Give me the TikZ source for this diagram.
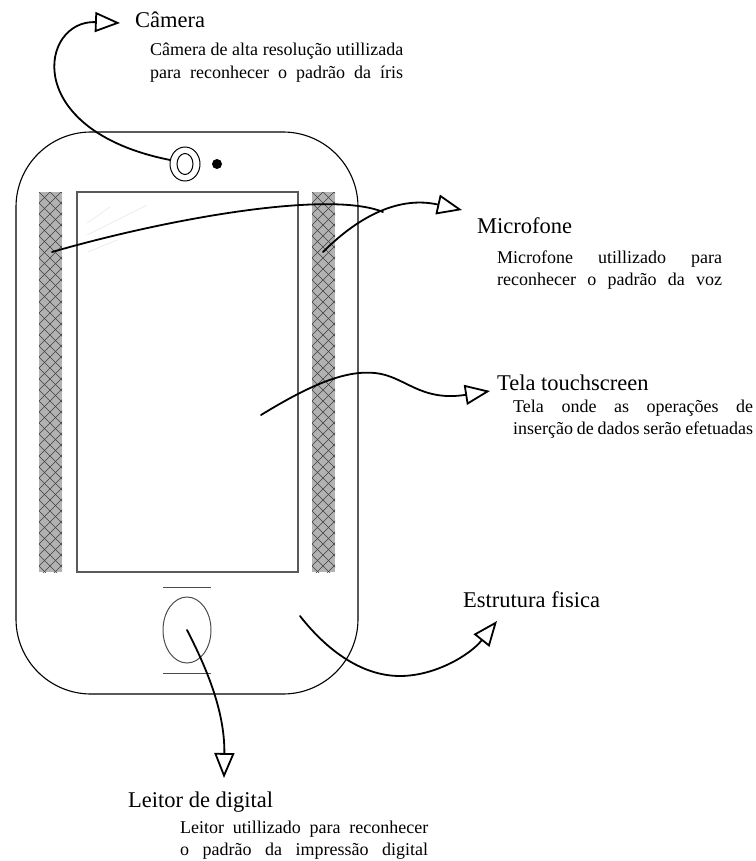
\documentclass[tikz,border=0pt]{standalone}
\usepackage{fontspec}
\setmainfont{Liberation Serif}
\usetikzlibrary{arrows.meta,shapes.geometric}

\tikzset{>={Triangle[open,length=25pt,width=20pt]}}
\tikzset{
  callout/.style={->, line width=1.8pt, line cap=round},
  title/.style={anchor=base west, inner sep=0pt, font=\fontsize{22.5}{27}\selectfont},
  note/.style={anchor=base west, inner sep=0pt, font=\fontsize{18}{22.5}\selectfont},
  lens/.style={ellipse, draw, line width=1pt, inner sep=0pt},
  grille/.style={fill=black!30},
  mesh/.style={draw=black!75, line width=0.55pt}
}
% one line of a note, stretched to the given width
\newcommand{\fillline}[2]{\makebox[#1][s]{#2}}

\begin{document}
\begin{tikzpicture}[x=1pt,y=-1pt]
\useasboundingbox (0,0) rectangle (755,861);

% body of the device
\draw[line width=1.1pt, rounded corners=75pt] (16,132) rectangle (358,694);

% camera and flash
\node[lens, minimum width=30pt, minimum height=34pt] (lensOut) at (185,164) {};
\node[lens, minimum width=16pt, minimum height=21pt] (lensIn) at (185,164) {};
\node[circle, fill, inner sep=0pt, minimum size=10pt] (flash) at (217,164) {};

% screen with a bit of glare
\node[draw=black!65, line width=1.4pt, minimum width=221pt, minimum height=380pt, inner sep=0pt] (screen) at (187.5,382) {};
\draw[black!10, line width=0.5pt] (87,223) -- (110,207) (87,235) -- (147,205) (88,252) -- (117,240);

% microphone grilles
\foreach \bx in {39,312} {
  \begin{scope}
    \clip (\bx,192) rectangle ++(23,380);
    \fill[grille] (\bx,192) rectangle ++(23,380);
    \foreach \k in {-38,...,40} {
      \draw[mesh] (\bx+11*\k,192) -- ++(400,400);
      \draw[mesh] (\bx+11*\k,192) -- ++(-400,400);
    }
  \end{scope}
}

% fingerprint reader
\draw[black!70, line width=1pt] (163,587) -- (211,587) (163,673) -- (211,673);
\node[ellipse, draw=black!70, line width=1pt, minimum width=48pt, minimum height=66pt, inner sep=0pt] (reader) at (187,630) {};

% labels
\node[title] (camTitle) at (135,28) {Câmera};
\node[note] (camText) at (150,56) {\begin{tabular}[t]{@{}l@{}}
  \fillline{253pt}{Câmera de alta resolução utillizada}\\
  \fillline{253pt}{para reconhecer o padrão da íris}\end{tabular}};

\node[title] (micTitle) at (477,233) {Microfone};
\node[note] (micText) at (497,263) {\begin{tabular}[t]{@{}l@{}}
  \fillline{225pt}{Microfone utillizado para}\\
  \fillline{225pt}{reconhecer o padrão da voz}\end{tabular}};

\node[title] (telaTitle) at (497,390) {Tela touchscreen};
\node[note] (telaText) at (513,412) {\begin{tabular}[t]{@{}l@{}}
  \fillline{240pt}{Tela onde as operações de}\\
  \fillline{240pt}{inserção de dados serão efetuadas}\end{tabular}};

\node[title] (caseTitle) at (463,607) {Estrutura fisica};

\node[title] (readerTitle) at (128,807) {Leitor de digital};
\node[note] (readerText) at (180,833) {\begin{tabular}[t]{@{}l@{}}
  \fillline{248pt}{Leitor utillizado para reconhecer}\\
  \fillline{248pt}{o padrão da impressão digital}\end{tabular}};

% end points of the callouts
\coordinate (camTip) at (120,23);
\coordinate (micLeft) at (52,252);
\coordinate (micRight) at (323,252);
\coordinate (micJoin) at (383,212);
\coordinate (micTip) at (462,210);
\coordinate (telaFrom) at (261,415);
\coordinate (telaTip) at (490,391);
\coordinate (caseFrom) at (300,616);
\coordinate (caseTip) at (497,621);
\coordinate (readerTip) at (224,778);

% callouts
\draw[callout] (lensOut.165) .. controls (20,130) and (40,20) .. (camTip);
\draw[callout, -] (micLeft) .. controls (170,218) and (330,190) .. (micJoin);
\draw[callout] (micRight) .. controls (360,215) and (400,196) .. (micTip);
\draw[callout] (telaFrom) .. controls (310,385) and (345,370) .. (375,373)
  .. controls (405,376) and (420,402) .. (telaTip);
\draw[callout] (caseFrom) .. controls (325,648) and (360,676) .. (400,676)
  .. controls (435,676) and (470,655) .. (caseTip);
\draw[callout] (reader.center) .. controls (205,665) and (225,710) .. (readerTip);

\end{tikzpicture}
\end{document}
